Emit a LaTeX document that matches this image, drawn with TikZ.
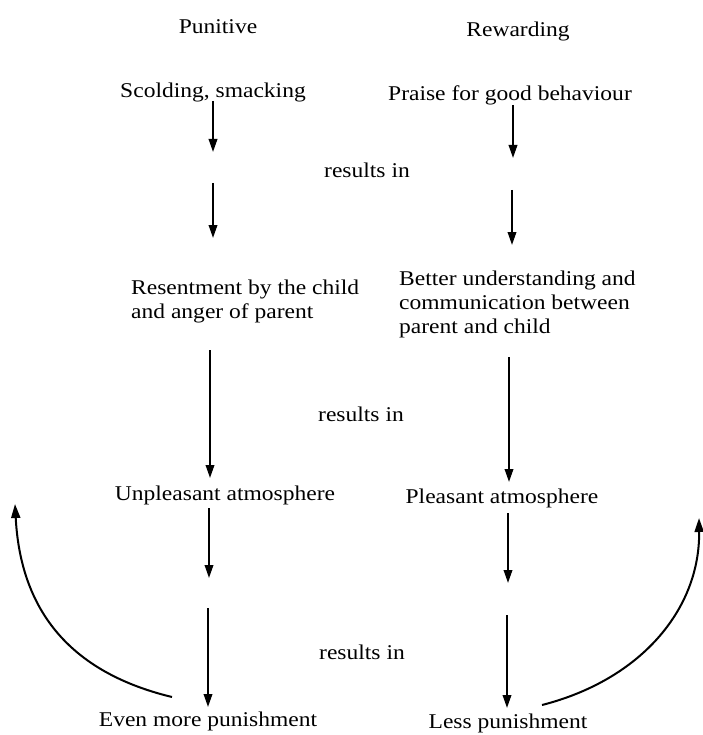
\documentclass[tikz,border=0pt]{standalone}
\usepackage{fontspec}
\setmainfont{Liberation Serif}[FakeStretch=1.12]
\usetikzlibrary{arrows.meta}
\begin{document}
\begin{tikzpicture}[x=1pt,y=-1pt,
  lbl/.style={font=\fontsize{21}{24}\selectfont, inner sep=0pt, anchor=base},
  blk/.style={lbl, align=left, anchor=base west},
  arr/.style={line width=2pt, -{Triangle[length=13pt,width=8.5pt]}},
  loopar/.style={line width=2pt, -{Triangle[length=14pt,width=9pt]}}]
\useasboundingbox (0,0) rectangle (702,735);
% headings
\node[lbl] (pun) at (218,34) {Punitive};
\node[lbl] (rew) at (518,37) {Rewarding};
% texts
\node[lbl] (scold) at (213,98) {Scolding, smacking};
\node[lbl] (praise) at (510,101) {Praise for good behaviour};
\node[lbl] (ri1) at (367,178) {results in};
\node[blk] (resent) at (131,318) {Resentment by the child\\ and anger of parent};
\node[blk] (better) at (399,333) {Better understanding and\\communication between\\parent and child};
\node[lbl] (ri2) at (361,421) {results in};
\node[lbl] (unpl) at (225,500) {Unpleasant atmosphere};
\node[lbl] (pleas) at (502,503) {Pleasant atmosphere};
\node[lbl] (ri3) at (362,659) {results in};
\node[lbl] (even) at (208,726) {Even more punishment};
\node[lbl] (less) at (508,728) {Less punishment};
% arrow end points, left column
\coordinate (L1a) at (213,101); \coordinate (L1b) at (213,152);
\coordinate (L2a) at (213,183); \coordinate (L2b) at (213,238);
\coordinate (L3a) at (210,350); \coordinate (L3b) at (210,478);
\coordinate (L4a) at (209,508); \coordinate (L4b) at (209,578);
\coordinate (L5a) at (208,608); \coordinate (L5b) at (208,707);
% right column
\coordinate (R1a) at (513,105); \coordinate (R1b) at (513,158);
\coordinate (R2a) at (512,190); \coordinate (R2b) at (512,245);
\coordinate (R3a) at (509,357); \coordinate (R3b) at (509,482);
\coordinate (R4a) at (508,513); \coordinate (R4b) at (508,583);
\coordinate (R5a) at (507,615); \coordinate (R5b) at (507,708);
\foreach \p in {L1,L2,L3,L4,L5,R1,R2,R3,R4,R5}
  \draw[arr] (\p a) -- (\p b);
% feedback loops
\coordinate (LCs) at (172,697); \coordinate (LCe) at (15,504);
\coordinate (RCs) at (542,705); \coordinate (RCe) at (699,518);
\draw[loopar] (LCs) .. controls (60,670) and (20,600) .. (LCe);
\draw[loopar] (RCs) .. controls (640,680) and (700,610) .. (RCe);
\end{tikzpicture}
\end{document}
